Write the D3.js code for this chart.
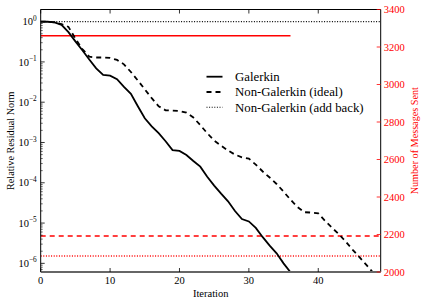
<!DOCTYPE html>
<html><head><meta charset="utf-8">
<script src="https://cdn.jsdelivr.net/npm/d3@7"></script>
<style>body{margin:0;background:#fff}svg{display:block}</style>
</head><body><svg id="c" width="424" height="303"></svg>
<script>
const iterGalerkin = d3.range(0, 37);
const logGalerkin = [0,-0.003,-0.02,-0.08,-0.26,-0.49,-0.71,-0.94,-1.16,-1.32,-1.34,-1.43,-1.62,-1.79,-2.1,-2.4,-2.6,-2.77,-2.97,-3.19,-3.21,-3.31,-3.46,-3.6,-3.85,-4.07,-4.27,-4.46,-4.7,-4.9,-4.96,-5.12,-5.35,-5.56,-5.75,-6.0,-6.22];
const iterIdeal = d3.range(0, 49);
const logIdeal = [0,-0.003,-0.02,-0.06,-0.13,-0.42,-0.68,-0.87,-0.89,-0.89,-0.9,-0.95,-1.06,-1.25,-1.46,-1.68,-1.9,-2.1,-2.2,-2.21,-2.22,-2.26,-2.38,-2.57,-2.77,-2.95,-3.08,-3.2,-3.3,-3.37,-3.4,-3.55,-3.72,-3.87,-4.03,-4.22,-4.42,-4.6,-4.73,-4.74,-4.76,-4.95,-5.12,-5.28,-5.47,-5.67,-5.86,-6.05,-6.25];
const iterAddBack = d3.range(0, 50);
const valAddBack = iterAddBack.map(() => 1.0);
const messagesSent = [3260, 2192, 2085];
const messagesIters = [36, 49, 49];
const seriesNames = ["Galerkin", "Non-Galerkin (ideal)", "Non-Galerkin (add back)"];
const xTicks = [0,10,20,30,40];
const yExponents = [0,-1,-2,-3,-4,-5,-6];
const rightTicks = [2000,2200,2400,2600,2800,3000,3200,3400];

const FONT = "Liberation Serif";
const FS = 10.5;
const svg = d3.select("#c");
const L = 40.7, R = 380.7, T = 9.5, B = 272;
const x = d3.scaleLinear().domain([0,49]).range([L,R]);
const y = d3.scaleLog().domain([6.1e-7, 2]).range([B,T]);
const yR = d3.scaleLinear().domain([2000,3400]).range([B,T]);

svg.append("defs").append("clipPath").attr("id","clip")
  .append("rect").attr("x",L).attr("y",T).attr("width",R-L).attr("height",B-T);
const g = svg.append("g").attr("clip-path","url(#clip)");

const dashes = ["none","5,4","1,1.6"];
messagesSent.forEach((m,i)=>{
  g.append("line").attr("x1",x(0)).attr("x2",x(messagesIters[i]))
   .attr("y1",yR(m)).attr("y2",yR(m))
   .attr("stroke","#ff0000").attr("stroke-width",1.5)
   .attr("stroke-dasharray",dashes[i]);
});
const line = d3.line().x(d=>x(d[0])).y(d=>y(d[1]));
const data = [
  iterGalerkin.map((it,i)=>[it, Math.pow(10,logGalerkin[i])]),
  iterIdeal.map((it,i)=>[it, Math.pow(10,logIdeal[i])]),
  iterAddBack.map((it,i)=>[it, valAddBack[i]])
];
const widths = [1.8,1.8,1.1];
data.forEach((d,i)=>{
  g.append("path").attr("d",line(d)).attr("fill","none").attr("stroke","#000")
   .attr("stroke-width",widths[i]).attr("stroke-dasharray",dashes[i]);
});

const ax = svg.append("g").style("font-family",FONT);
ax.append("line").attr("x1",L).attr("x2",R).attr("y1",T).attr("y2",T).attr("stroke","#000");
ax.append("line").attr("x1",L).attr("x2",L).attr("y1",T).attr("y2",B).attr("stroke","#000");
ax.append("line").attr("x1",R).attr("x2",R).attr("y1",T).attr("y2",B).attr("stroke","#000");
ax.append("line").attr("x1",L).attr("x2",R).attr("y1",B).attr("y2",B).attr("stroke","#666").attr("stroke-width",2);

xTicks.forEach(t=>{
  ax.append("line").attr("x1",x(t)).attr("x2",x(t)).attr("y1",B).attr("y2",B-4).attr("stroke","#000").attr("stroke-width",0.8);
  ax.append("line").attr("x1",x(t)).attr("x2",x(t)).attr("y1",T).attr("y2",T+4).attr("stroke","#000").attr("stroke-width",0.8);
  ax.append("text").attr("x",x(t)).attr("y",B+11.5).attr("text-anchor","middle").attr("font-size",FS).text(t);
});
ax.append("text").attr("x",(L+R)/2).attr("y",B+24.5).attr("text-anchor","middle").attr("font-size",FS).text("Iteration");

yExponents.forEach(e=>{
  const v = Math.pow(10,e);
  ax.append("line").attr("x1",L).attr("x2",L+4).attr("y1",y(v)).attr("y2",y(v)).attr("stroke","#000").attr("stroke-width",0.8);
  const t = ax.append("text").attr("x",L-4).attr("y",y(v)+3.6).attr("text-anchor","end").attr("font-size",FS);
  t.append("tspan").text("10");
  t.append("tspan").attr("dy",-4.5).attr("font-size",7.3).text(e===0?"0":"\u2212"+(-e));
  for(let k=2;k<10;k++){
    const mv = k*v;
    if(mv<=2 && mv>=6.1e-7){
      ax.append("line").attr("x1",L).attr("x2",L+2).attr("y1",y(mv)).attr("y2",y(mv)).attr("stroke","#000").attr("stroke-width",0.6);
    }
  }
});
[7e-7,8e-7,9e-7].forEach(mv=>{
  ax.append("line").attr("x1",L).attr("x2",L+2).attr("y1",y(mv)).attr("y2",y(mv)).attr("stroke","#000").attr("stroke-width",0.6);
});
ax.append("text").attr("transform",`translate(13.5,${(T+B)/2}) rotate(-90)`).attr("text-anchor","middle").attr("font-size",10.2).text("Relative Residual Norm");

rightTicks.forEach(t=>{
  ax.append("line").attr("x1",R).attr("x2",R-4).attr("y1",yR(t)).attr("y2",yR(t)).attr("stroke","#ff0000").attr("stroke-width",0.8);
  ax.append("text").attr("x",R+3).attr("y",yR(t)+3.6).attr("font-size",FS).attr("fill","#ff0000").text(t);
});
ax.append("text").attr("transform",`translate(418,${(T+B)/2}) rotate(-90)`).attr("text-anchor","middle").attr("font-size",10.2).attr("fill","#ff0000").text("Number of Messages Sent");

const lg = svg.append("g").style("font-family",FONT);
seriesNames.forEach((n,i)=>{
  const yy = 76.7 + i*15.3;
  lg.append("line").attr("x1",206.5).attr("x2",222.5).attr("y1",yy).attr("y2",yy).attr("stroke","#000")
    .attr("stroke-width",widths[i]).attr("stroke-dasharray",dashes[i]);
  lg.append("text").attr("x",235).attr("y",yy+4.3).attr("font-size",12.8).text(n);
});
</script></body></html>
